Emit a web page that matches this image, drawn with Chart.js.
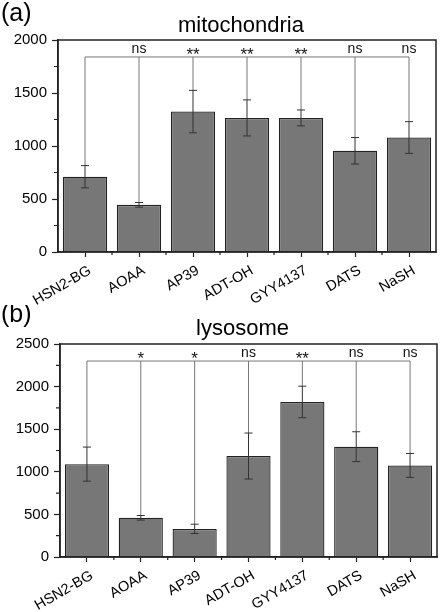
<!DOCTYPE html>
<html>
<head>
<meta charset="utf-8">
<script src="https://cdn.jsdelivr.net/npm/chart.js@4.4.1/dist/chart.umd.min.js"></script>
<style>
  body { margin: 0; background: #fff; }
  .panel { position: absolute; left: 0; width: 441px; }
</style>
</head>
<body>
<div class="panel" style="top:0;height:305px"><canvas id="chartA" width="441" height="305"></canvas></div>
<div class="panel" style="top:305px;height:307px"><canvas id="chartB" width="441" height="307"></canvas></div>
<script>
// values
const categories = ['HSN2-BG', 'AOAA', 'AP39', 'ADT-OH', 'GYY4137', 'DATS', 'NaSH'];

const mitoMeans  = [710, 445, 1325, 1265, 1265, 955, 1080];
const mitoErrors = [105, 22, 200, 170, 75, 125, 150];
const mitoSig    = ['', 'ns', '**', '**', '**', 'ns', 'ns'];
const mitoBracket = 1840;
const mitoMax = 2000;

const lysoMeans  = [1090, 460, 330, 1185, 1820, 1295, 1075];
const lysoErrors = [200, 27, 55, 270, 185, 175, 140];
const lysoSig    = ['', '*', '*', 'ns', '**', 'ns', 'ns'];
const lysoBracket = 2300;
const lysoMax = 2500;

const FONT = "'Liberation Sans', Arial, sans-serif";

// draws error bars, significance brackets, frame, minor ticks, x labels and the titles
function extrasPlugin(cfg) {
    return {
        id: 'extras',
        afterDatasetsDraw(chart) {
            const ctx = chart.ctx;
            const xs = chart.scales.x, ys = chart.scales.y;
            const area = chart.chartArea;
            ctx.save();

            // significance bracket
            const by = ys.getPixelForValue(cfg.bracket);
            ctx.strokeStyle = '#777';
            ctx.lineWidth = 1;
            ctx.beginPath();
            ctx.moveTo(xs.getPixelForValue(0), by);
            ctx.lineTo(xs.getPixelForValue(cfg.means.length - 1), by);
            for (let i = 0; i < cfg.means.length; i++) {
                const x = xs.getPixelForValue(i);
                ctx.moveTo(x, by);
                ctx.lineTo(x, ys.getPixelForValue(cfg.means[i] + cfg.errors[i]));
            }
            ctx.stroke();

            // error bars
            ctx.strokeStyle = '#333';
            ctx.lineWidth = 1;
            ctx.beginPath();
            for (let i = 0; i < cfg.means.length; i++) {
                const x = xs.getPixelForValue(i);
                const yt = ys.getPixelForValue(cfg.means[i] + cfg.errors[i]);
                const yb = ys.getPixelForValue(cfg.means[i] - cfg.errors[i]);
                ctx.moveTo(x, yt); ctx.lineTo(x, yb);
                ctx.moveTo(x - 4, yt); ctx.lineTo(x + 4, yt);
                ctx.moveTo(x - 4, yb); ctx.lineTo(x + 4, yb);
            }
            ctx.stroke();

            // stars / ns
            ctx.fillStyle = '#111';
            ctx.textAlign = 'center';
            ctx.textBaseline = 'alphabetic';
            for (let i = 0; i < cfg.sig.length; i++) {
                if (!cfg.sig[i]) continue;
                const star = cfg.sig[i].indexOf('*') >= 0;
                ctx.font = (star ? '17px ' : '14px ') + FONT;
                ctx.fillText(cfg.sig[i], xs.getPixelForValue(i), star ? by + 3 : by - 4);
            }

            // frame
            ctx.strokeStyle = '#222';
            ctx.lineWidth = 1.5;
            ctx.strokeRect(area.left, area.top, area.right - area.left, area.bottom - area.top);

            // minor ticks
            ctx.lineWidth = 1.2;
            ctx.beginPath();
            for (let v = 250; v < cfg.max; v += 500) {
                const y = ys.getPixelForValue(v);
                ctx.moveTo(area.left - 4, y); ctx.lineTo(area.left, y);
            }
            for (let i = 0; i < cfg.means.length - 1; i++) {
                const x = (xs.getPixelForValue(i) + xs.getPixelForValue(i + 1)) / 2;
                ctx.moveTo(x, area.bottom); ctx.lineTo(x, area.bottom + 3);
            }
            ctx.stroke();

            // rotated category labels
            ctx.fillStyle = '#000';
            ctx.font = '14.5px ' + FONT;
            ctx.textAlign = 'right';
            for (let i = 0; i < categories.length; i++) {
                ctx.save();
                ctx.translate(xs.getPixelForValue(i) + 7, area.bottom + 21);
                ctx.rotate(-30 * Math.PI / 180);
                ctx.fillText(categories[i], 0, 0);
                ctx.restore();
            }

            // title and panel label
            ctx.font = '22px ' + FONT;
            ctx.textAlign = 'center';
            ctx.fillText(cfg.title, (area.left + area.right) / 2 - 6, cfg.titleY);
            ctx.font = '25px ' + FONT;
            ctx.textAlign = 'left';
            ctx.fillText(cfg.label, 1, cfg.labelY);
            ctx.restore();
        }
    };
}

function makeChart(id, cfg) {
    return new Chart(document.getElementById(id), {
        type: 'bar',
        data: {
            labels: categories,
            datasets: [{
                data: cfg.means,
                backgroundColor: '#777777',
                borderColor: '#222',
                borderWidth: 1.3,
                barPercentage: 0.82,
                categoryPercentage: 1
            }]
        },
        options: {
            responsive: false,
            animation: false,
            layout: { padding: { top: cfg.top, right: cfg.right, left: 0, bottom: 0 } },
            plugins: { legend: { display: false }, tooltip: { enabled: false } },
            scales: {
                x: {
                    offset: true,
                    grid: { offset: false, drawOnChartArea: false, tickLength: 5, color: '#222', tickWidth: 1.2 },
                    border: { display: true, color: '#222', width: 1.5 },
                    ticks: { display: false },
                    afterFit(scale) { scale.height = cfg.xHeight; }
                },
                y: {
                    min: 0, max: cfg.max,
                    grid: { drawOnChartArea: false, tickLength: 6, color: '#222', tickWidth: 1.2 },
                    border: { display: true, color: '#222', width: 1.5 },
                    ticks: {
                        stepSize: 500, color: '#000', padding: 5,
                        font: { family: FONT, size: 15 },
                        callback: v => String(v)
                    },
                    afterFit(scale) { scale.width = cfg.yWidth; }
                }
            }
        },
        plugins: [extrasPlugin(cfg)]
    });
}

makeChart('chartA', {
    means: mitoMeans, errors: mitoErrors, sig: mitoSig, bracket: mitoBracket, max: mitoMax,
    title: 'mitochondria', titleY: 32, label: '(a)', labelY: 21,
    top: 40, right: 5, yWidth: 58, xHeight: 53
});
makeChart('chartB', {
    means: lysoMeans, errors: lysoErrors, sig: lysoSig, bracket: lysoBracket, max: lysoMax,
    title: 'lysosome', titleY: 30, label: '(b)', labelY: 17,
    top: 39, right: 4, yWidth: 60, xHeight: 55
});
</script>
</body>
</html>
